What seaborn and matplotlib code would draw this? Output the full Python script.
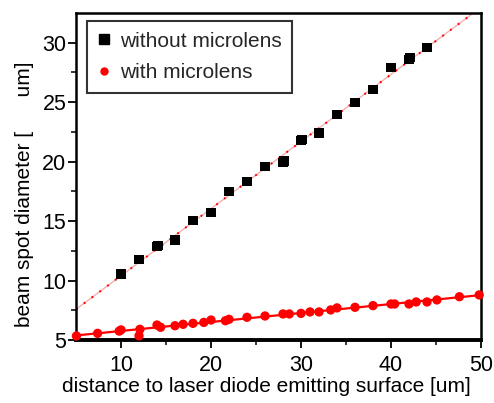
import numpy as np
import pandas as pd
import matplotlib
matplotlib.use("Agg")
import matplotlib.pyplot as plt
import seaborn as sns

# without microlens (black squares)
x_without = [10.0, 12.0, 14.0, 14.1, 16.0, 18.0, 20.0, 22.0, 24.0, 26.0, 28.0, 28.1,
             30.0, 30.1, 32.0, 34.0, 36.0, 38.0, 40.0, 42.0, 42.1, 44.0]
y_without = [10.55, 11.75, 12.85, 12.95, 13.4, 15.05, 15.7, 17.5, 18.35, 19.6, 19.95, 20.05,
             21.75, 21.85, 22.4, 23.95, 25.0, 26.05, 27.9, 28.6, 28.75, 29.6]

# with microlens (red circles)
x_with = [5.05, 7.4, 9.8, 10.0, 12.0, 12.1, 14.0, 14.4, 16.0, 16.9, 18.0, 19.2, 20.0,
          21.6, 22.0, 24.0, 26.0, 28.0, 28.7, 30.0, 31.0, 32.0, 33.3, 34.0, 36.0, 38.0,
          40.0, 40.4, 42.0, 42.8, 44.0, 45.1, 47.6, 49.8]
y_with = [5.34, 5.56, 5.75, 5.85, 5.35, 5.9, 6.26, 6.07, 6.2, 6.32, 6.4, 6.48, 6.68,
          6.62, 6.74, 6.91, 7.02, 7.19, 7.19, 7.24, 7.36, 7.36, 7.53, 7.7, 7.75, 7.89,
          8.03, 8.03, 8.03, 8.2, 8.2, 8.37, 8.64, 8.79]

labels = ["without microlens", "with microlens"]
x_ticks = [10, 20, 30, 40, 50]
y_ticks = [5, 10, 15, 20, 25, 30]

df = pd.DataFrame({
    "x": x_without + x_with,
    "y": y_without + y_with,
    "series": [labels[0]] * len(x_without) + [labels[1]] * len(x_with),
})

sns.set_theme(style="white")
plt.rcParams["font.family"] = ["Liberation Sans", "DejaVu Sans"]

fig = plt.figure(figsize=(4.94, 4.03), dpi=100)
ax = fig.add_axes([76 / 494, 1 - 340 / 403, (481 - 76) / 494, (340 - 13) / 403])
ax.set_xlim(5, 50)
ax.set_ylim(5, 32.5)

d0 = df[df.series == labels[0]]
d1 = df[df.series == labels[1]]

# fit lines
sns.regplot(data=d0, x="x", y="y", scatter=False, ci=None, truncate=False, ax=ax,
            line_kws=dict(color="#f2b0b0", lw=1.0, zorder=1))
sns.regplot(data=d0, x="x", y="y", scatter=False, ci=None, truncate=False, ax=ax,
            line_kws=dict(color="red", lw=1.4, linestyle=(0, (1, 4)), zorder=1))
sns.regplot(data=d1, x="x", y="y", scatter=False, ci=None, truncate=False, ax=ax,
            line_kws=dict(color="red", lw=1.6, zorder=1))

sns.scatterplot(data=df, x="x", y="y", hue="series", style="series",
                palette={labels[0]: "black", labels[1]: "red"},
                markers={labels[0]: "s", labels[1]: "o"},
                s=45, linewidth=0, ax=ax, zorder=3, clip_on=False)

ax.set_xlim(5, 50)
ax.set_ylim(5, 32.5)
ax.set_xticks(x_ticks)
ax.set_yticks(y_ticks)
ax.set_xticks([15, 25, 35, 45], minor=True)
ax.set_yticks([7.5, 12.5, 17.5, 22.5, 27.5], minor=True)
ax.tick_params(axis="both", which="major", direction="out", length=6, width=1.3,
               labelsize=15.5, colors="black", left=True, bottom=True)
ax.tick_params(axis="both", which="minor", direction="out", length=3.5, width=1.3,
               left=True, bottom=True)
ax.tick_params(axis="x", which="major", pad=5)
ax.tick_params(axis="y", which="major", pad=1)

for side in ["left", "top", "right"]:
    ax.spines[side].set_color("black")
    ax.spines[side].set_linewidth(1.8)
ax.spines["bottom"].set_color("black")
ax.spines["bottom"].set_linewidth(2.8)

ax.set_xlabel("distance to laser diode emitting surface [um]", fontsize=15,
              color="black", labelpad=0)
ax.xaxis.set_label_coords(0.47, -0.113)
ax.set_ylabel("beam spot diameter [      um]", fontsize=15, color="black")
ax.yaxis.set_label_coords(-0.103, 0.445)

ax.legend_.remove()
h0 = plt.Line2D([], [], marker="s", color="black", linestyle="none", markersize=6.5)
h1 = plt.Line2D([], [], marker="o", color="red", linestyle="none", markersize=5)
leg = ax.legend([h0, h1], labels, loc="upper left", bbox_to_anchor=(0.027, 0.975),
                frameon=True, fancybox=False, fontsize=15, handlelength=0.6,
                handletextpad=0.5, borderpad=0.5, labelspacing=0.6, borderaxespad=0)
leg.get_frame().set_edgecolor("black")
leg.get_frame().set_linewidth(1.5)

fig.savefig("out.png", dpi=100)
